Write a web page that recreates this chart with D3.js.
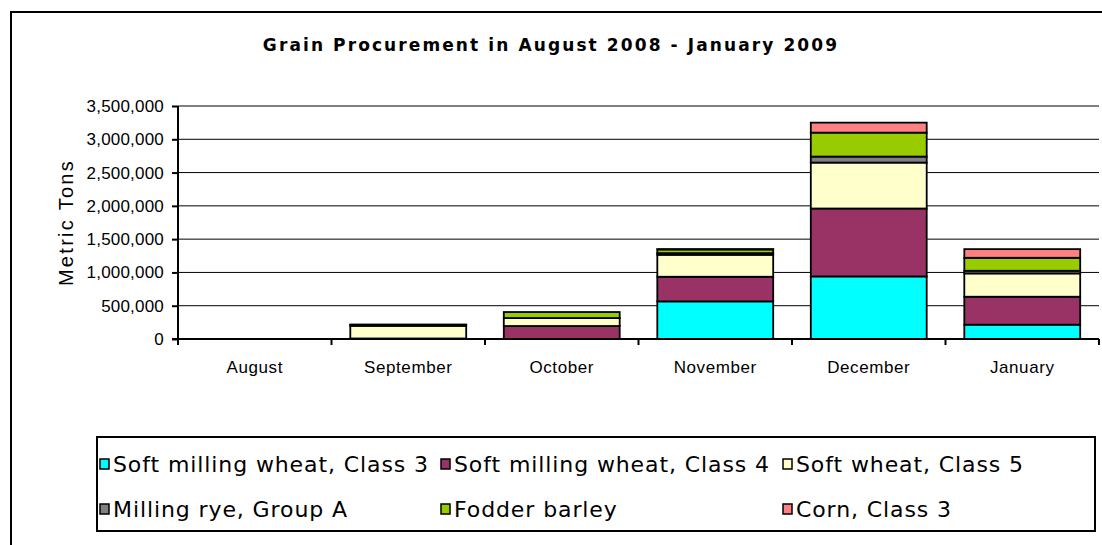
<!DOCTYPE html>
<html>
<head>
<meta charset="utf-8">
<script src="https://cdn.jsdelivr.net/npm/d3@7"></script>
<style>
  body { margin: 0; background: #fff; }
</style>
</head>
<body>
<div id="plot"></div>
<script>
// data
var months = ["August", "September", "October", "November", "December", "January"];
var seriesNames = ["Soft milling wheat, Class 3", "Soft milling wheat, Class 4", "Soft wheat, Class 5",
    "Milling rye, Group A", "Fodder barley", "Corn, Class 3"];
var seriesColors = ["#00ffff", "#993366", "#ffffcc", "#808080", "#99cc00", "#ff8080"];

var wheat3 = [0, 0, 0, 565000, 940000, 215000];
var wheat4 = [0, 8000, 195000, 370000, 1020000, 420000];
var wheat5 = [0, 190000, 120000, 330000, 690000, 350000];
var rye = [0, 12000, 0, 25000, 90000, 40000];
var barley = [0, 8000, 90000, 55000, 360000, 195000];
var corn = [0, 0, 0, 5000, 150000, 130000];

var yTicks = [0, 500000, 1000000, 1500000, 2000000, 2500000, 3000000, 3500000];

var svgWidth = 1102;
var svgHeight = 545;

var margin = { top: 106, left: 178, right: 3, bottom: 206 };
var width = svgWidth - margin.left - margin.right;
var height = svgHeight - margin.top - margin.bottom;

var svg = d3.select("#plot")
    .append("svg")
    .attr("width", svgWidth)
    .attr("height", svgHeight);

// outer chart frame (runs off the right and bottom)
svg.append("rect")
    .attr("x", 11).attr("y", 12)
    .attr("width", 1200).attr("height", 600)
    .attr("fill", "none")
    .attr("stroke", "#000")
    .attr("stroke-width", 2);

svg.append("text")
    .attr("x", 551).attr("y", 51)
    .attr("text-anchor", "middle")
    .attr("font-family", "DejaVu Sans")
    .attr("font-weight", "bold")
    .attr("font-size", "17px")
    .attr("letter-spacing", "2.1px")
    .text("Grain Procurement in August 2008 - January 2009");

var chartGroup = svg.append("g")
    .attr("transform", `translate(${margin.left}, ${margin.top})`);

// build stacked table
var keys = seriesNames;
var cols = [wheat3, wheat4, wheat5, rye, barley, corn];
var table = months.map(function (m, i) {
    var row = { month: m };
    keys.forEach(function (k, j) { row[k] = cols[j][i]; });
    return row;
});
var stacked = d3.stack().keys(keys)(table);

var xScale = d3.scaleBand()
    .domain(months)
    .range([0, width])
    .paddingInner(0.245)
    .paddingOuter(0.1225);

var yScale = d3.scaleLinear()
    .domain([0, 3500000])
    .range([height, 0]);

// gridlines
chartGroup.append("g")
    .selectAll("line")
    .data(yTicks.slice(1))
    .enter()
    .append("line")
    .attr("x1", 0).attr("x2", width)
    .attr("y1", d => yScale(d)).attr("y2", d => yScale(d))
    .attr("stroke", "#000")
    .attr("stroke-width", 1);

// bars
chartGroup.selectAll("g.layer")
    .data(stacked)
    .enter()
    .append("g")
    .attr("class", "layer")
    .attr("fill", (d, i) => seriesColors[i])
    .selectAll("rect")
    .data(d => d)
    .enter()
    .append("rect")
    .filter(d => d[1] - d[0] > 0)
    .attr("x", d => xScale(d.data.month))
    .attr("width", xScale.bandwidth())
    .attr("y", d => yScale(d[1]))
    .attr("height", d => yScale(d[0]) - yScale(d[1]))
    .attr("stroke", "#000")
    .attr("stroke-width", 1.8);

// axes
var leftAxis = d3.axisLeft(yScale)
    .tickValues(yTicks)
    .tickSize(6)
    .tickPadding(8)
    .tickFormat(d3.format(","));
var yAxis = chartGroup.append("g").call(leftAxis);

var xTickScale = d3.scaleLinear().domain([0, months.length]).range([0, width]);
var xAxis = chartGroup.append("g")
    .attr("transform", `translate(0, ${height})`);
xAxis.append("line")
    .attr("x1", -6).attr("x2", width)
    .attr("stroke", "#000").attr("stroke-width", 2);
xAxis.selectAll("line.tick")
    .data(d3.range(months.length + 1))
    .enter()
    .append("line")
    .attr("class", "tick")
    .attr("x1", d => xTickScale(d)).attr("x2", d => xTickScale(d))
    .attr("y1", 0).attr("y2", 6)
    .attr("stroke", "#000").attr("stroke-width", 2);
xAxis.selectAll("text")
    .data(months)
    .enter()
    .append("text")
    .attr("x", d => xScale(d) + xScale.bandwidth() / 2)
    .attr("y", 34)
    .attr("text-anchor", "middle")
    .attr("font-family", "Liberation Sans")
    .attr("font-size", "17px")
    .attr("letter-spacing", "0.6px")
    .attr("fill", "#000")
    .text(d => d);

yAxis.select(".domain").attr("stroke-width", 2).attr("d", `M0,${height}V0`);
yAxis.selectAll(".tick line").attr("stroke-width", 2);
yAxis.selectAll(".tick text")
    .attr("font-family", "Liberation Sans")
    .attr("font-size", "17px")
    .attr("letter-spacing", "0.2px")
    .attr("fill", "#000");

// Y axis title
chartGroup.append("text")
    .attr("transform", "rotate(-90)")
    .attr("x", 0 - height / 2)
    .attr("y", 66 - margin.left)
    .attr("dy", "0.35em")
    .attr("text-anchor", "middle")
    .attr("font-family", "Liberation Sans")
    .attr("font-size", "20px")
    .attr("letter-spacing", "2.3px")
    .text("Metric Tons");

// legend
svg.append("rect")
    .attr("x", 97).attr("y", 437)
    .attr("width", 998).attr("height", 94)
    .attr("fill", "#fff")
    .attr("stroke", "#000")
    .attr("stroke-width", 2);

var legendX = [100, 441, 783];
var legendY = [464, 509];
var legend = svg.selectAll("g.legend")
    .data(seriesNames)
    .enter()
    .append("g")
    .attr("class", "legend")
    .attr("transform", (d, i) => `translate(${legendX[i % 3]}, ${legendY[Math.floor(i / 3)]})`);
legend.append("rect")
    .attr("x", 0).attr("y", -5)
    .attr("width", 9).attr("height", 10)
    .attr("fill", (d, i) => seriesColors[i])
    .attr("stroke", "#000")
    .attr("stroke-width", 1.5);
legend.append("text")
    .attr("x", 13).attr("y", 0)
    .attr("dy", "0.35em")
    .attr("font-family", "DejaVu Sans")
    .attr("font-size", "22px")
    .attr("letter-spacing", "0.9px")
    .text(d => d);
</script>
</body>
</html>
